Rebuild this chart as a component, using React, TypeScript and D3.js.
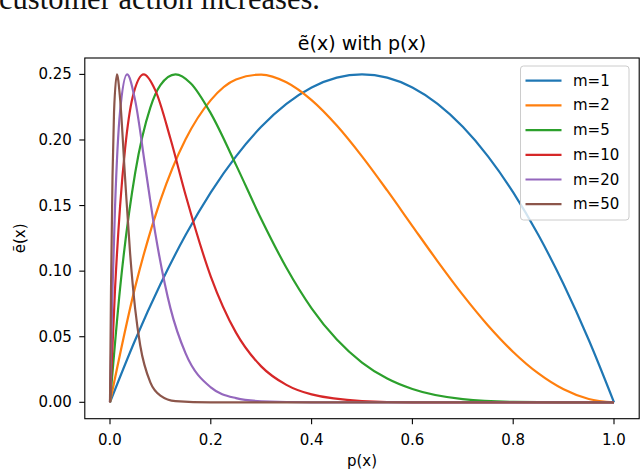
import React from "react";
import * as d3 from "d3";

// ---- data ----
const xTicks = [0, 0.2, 0.4, 0.6, 0.8, 1.0];
const yTicks = [0, 0.05, 0.1, 0.15, 0.2, 0.25];
const seriesLabels = ["m=1", "m=2", "m=5", "m=10", "m=20", "m=50"];
const seriesColors = ["#1f77b4", "#ff7f0e", "#2ca02c", "#d62728", "#9467bd", "#8c564b"];

const m1: [number, number][] = [
  [0, 0], [0.05, 0.0475], [0.1, 0.09], [0.15, 0.1275], [0.2, 0.16], [0.25, 0.1875],
  [0.3, 0.21], [0.35, 0.2275], [0.4, 0.24], [0.45, 0.2475], [0.5, 0.25], [0.55, 0.2475],
  [0.6, 0.24], [0.65, 0.2275], [0.7, 0.21], [0.75, 0.1875], [0.8, 0.16], [0.85, 0.1275],
  [0.9, 0.09], [0.95, 0.0475], [1.0, 0],
];
const m2: [number, number][] = [
  [0, 0], [0.05, 0.088], [0.1, 0.1539], [0.15, 0.2005], [0.2, 0.2304], [0.25, 0.2461],
  [0.3, 0.2499], [0.35, 0.244], [0.4, 0.2304], [0.45, 0.211], [0.5, 0.1875], [0.55, 0.1615],
  [0.6, 0.1344], [0.65, 0.1075], [0.7, 0.0819], [0.75, 0.0586], [0.8, 0.0384], [0.85, 0.022],
  [0.9, 0.0099], [0.95, 0.0025], [1.0, 0],
];
const m5: [number, number][] = [
  [0, 0], [0.02, 0.0869], [0.05, 0.175], [0.08, 0.2247], [0.1, 0.2418], [0.13, 0.25],
  [0.16, 0.2433], [0.2, 0.2203], [0.25, 0.181], [0.3, 0.1398], [0.35, 0.1026], [0.4, 0.0717],
  [0.45, 0.0478], [0.5, 0.0303], [0.55, 0.0181], [0.6, 0.0101], [0.7, 0.0024], [0.8, 0.0003],
  [0.9, 0], [1.0, 0],
];
const m10: [number, number][] = [
  [0, 0], [0.01, 0.0865], [0.02, 0.1495], [0.03, 0.1936], [0.045, 0.2328], [0.067, 0.25],
  [0.09, 0.2378], [0.12, 0.2009], [0.15, 0.1581], [0.2, 0.0959], [0.25, 0.0531], [0.3, 0.0274],
  [0.35, 0.0133], [0.4, 0.006], [0.5, 0.001], [0.6, 0], [0.8, 0], [1.0, 0],
];
const m20: [number, number][] = [
  [0, 0], [0.005, 0.0863], [0.01, 0.1489], [0.02, 0.2219], [0.034, 0.25], [0.05, 0.23],
  [0.07, 0.1794], [0.09, 0.1286], [0.12, 0.0716], [0.15, 0.0373], [0.2, 0.0114], [0.25, 0.0032],
  [0.3, 0.0008], [0.4, 0], [0.6, 0], [1.0, 0],
];
const m50: [number, number][] = [
  [0, 0], [0.002, 0.0862], [0.005, 0.1726], [0.008, 0.2213], [0.0138, 0.25], [0.02, 0.2316],
  [0.03, 0.1705], [0.04, 0.113], [0.05, 0.071], [0.06, 0.0433], [0.08, 0.0152], [0.1, 0.0051],
  [0.13, 0.0009], [0.2, 0], [0.4, 0], [1.0, 0],
];
const seriesData = [m1, m2, m5, m10, m20, m50];

const titleText = "ẽ(x) with p(x)";
const xLabel = "p(x)";
const yLabel = "ẽ(x)";
const captionText = "customer action increases.";

export default function App() {
  const W = 640;
  const H = 471;
  const left = 84.8;
  const right = 639.2;
  const top = 58;
  const bottom = 418.7;

  const x = d3.scaleLinear().domain([-0.05, 1.05]).range([left, right]);
  const y = d3.scaleLinear().domain([-0.0125, 0.2625]).range([bottom, top]);

  const line = d3
    .line<[number, number]>()
    .x((d) => x(d[0]))
    .y((d) => y(d[1]))
    .curve(d3.curveMonotoneX);

  const font = "'DejaVu Sans', sans-serif";
  const tickFs = 15;

  const legX = 520.5;
  const legY = 66;
  const legW = 108.5;
  const legH = 154;
  const rowY0 = 80.7;
  const rowStep = 24.7;

  return (
    <svg
      width={W}
      height={H}
      style={{ position: "absolute", left: 0, top: 0, background: "#fff" }}
      fontFamily={font}
    >
      <rect x={0} y={0} width={W} height={H} fill="#fff" />
      <text
        x={-1}
        y={9}
        fontFamily="'Liberation Serif', 'DejaVu Serif', serif"
        fontSize={30.5}
        fill="#111"
      >
        {captionText}
      </text>

      <text x={(left + right) / 2} y={50} textAnchor="middle" fontSize={19} fill="#000">
        {titleText}
      </text>

      <defs>
        <clipPath id="plotclip">
          <rect x={left} y={top} width={right - left} height={bottom - top} />
        </clipPath>
      </defs>

      <g clipPath="url(#plotclip)">
        {seriesData.map((d, i) => (
          <path
            key={i}
            d={line(d) || ""}
            fill="none"
            stroke={seriesColors[i]}
            strokeWidth={2.2}
            strokeLinejoin="round"
          />
        ))}
      </g>

      <rect
        x={left}
        y={top}
        width={right - left}
        height={bottom - top}
        fill="none"
        stroke="#000"
        strokeWidth={1.1}
      />

      {xTicks.map((t) => (
        <g key={"x" + t}>
          <line x1={x(t)} x2={x(t)} y1={bottom} y2={bottom + 5.5} stroke="#000" strokeWidth={1.1} />
          <text x={x(t)} y={bottom + 26} textAnchor="middle" fontSize={tickFs} fill="#000">
            {d3.format(".1f")(t)}
          </text>
        </g>
      ))}

      {yTicks.map((t) => (
        <g key={"y" + t}>
          <line x1={left - 5.5} x2={left} y1={y(t)} y2={y(t)} stroke="#000" strokeWidth={1.1} />
          <text
            x={left - 13}
            y={y(t)}
            textAnchor="end"
            dominantBaseline="central"
            fontSize={tickFs}
            fill="#000"
          >
            {d3.format(".2f")(t)}
          </text>
        </g>
      ))}

      <text x={(left + right) / 2} y={466} textAnchor="middle" fontSize={tickFs} fill="#000">
        {xLabel}
      </text>
      <text
        transform={`translate(20, ${(top + bottom) / 2}) rotate(-90)`}
        textAnchor="middle"
        dominantBaseline="central"
        fontSize={tickFs}
        fill="#000"
      >
        {yLabel}
      </text>

      <rect
        x={legX}
        y={legY}
        width={legW}
        height={legH}
        rx={3}
        fill="#fff"
        fillOpacity={0.8}
        stroke="#cccccc"
        strokeWidth={1}
      />
      {seriesLabels.map((lab, i) => (
        <g key={lab}>
          <line
            x1={525.5}
            x2={561.5}
            y1={rowY0 + i * rowStep}
            y2={rowY0 + i * rowStep}
            stroke={seriesColors[i]}
            strokeWidth={2.2}
          />
          <text
            x={573}
            y={rowY0 + i * rowStep}
            dominantBaseline="central"
            fontSize={tickFs}
            fill="#000"
          >
            {lab}
          </text>
        </g>
      ))}
    </svg>
  );
}
